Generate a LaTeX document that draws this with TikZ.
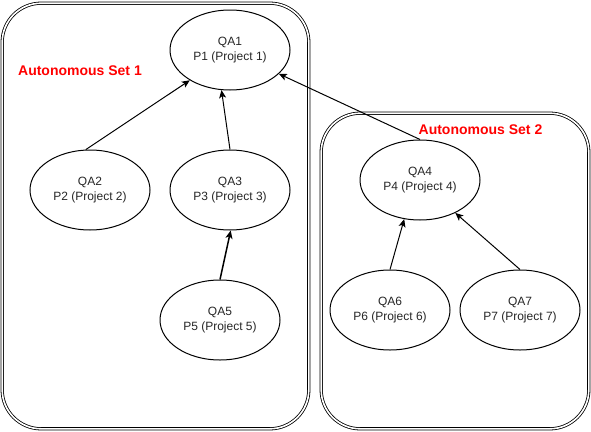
\documentclass[tikz,border=0pt]{standalone}
\usepackage{fontspec}
\setmainfont{Liberation Sans}
\usetikzlibrary{shapes.geometric,arrows.meta}
\begin{document}
\begin{tikzpicture}[x=1pt,y=-1pt,
  qa/.style={draw, line width=1pt, ellipse, minimum width=120pt, minimum height=80pt,
    inner sep=0pt, align=center, text=black!85, font=\fontsize{12}{15}\selectfont},
  setbox/.style={draw, double, double distance=1.6pt, line width=0.8pt, rounded corners=39pt},
  setlabel/.style={text=red, font=\fontsize{14}{16}\selectfont\bfseries, inner sep=0pt},
  conn/.style={line width=1pt, -{Stealth[length=8pt,width=7pt,inset=2pt]}}]
\useasboundingbox (0,0) rectangle (591,431);
% autonomous set boxes
\draw[setbox] (2.2,3.2) rectangle (308.8,428.8);
\draw[setbox] (321.2,113.2) rectangle (588.8,428.8);
\node[setlabel] (lab1) at (80,71) {Autonomous Set 1};
\node[setlabel] (lab2) at (480.5,130) {Autonomous Set 2};
% nodes
\node[qa] (qa1) at (230,50) {QA1\\P1 (Project 1)};
\node[qa] (qa2) at (90,190) {QA2\\P2 (Project 2)};
\node[qa] (qa3) at (230,190) {QA3\\P3 (Project 3)};
\node[qa] (qa4) at (420,180) {QA4\\P4 (Project 4)};
\node[qa] (qa5) at (220,320) {QA5\\P5 (Project 5)};
\node[qa] (qa6) at (390,310) {QA6\\P6 (Project 6)};
\node[qa] (qa7) at (520,310) {QA7\\P7 (Project 7)};
% connectors
\draw[conn] (qa2.96) -- (qa1.217);
\draw[conn] (qa3.north) -- (qa1.258);
\draw[conn] (qa4.north) -- (qa1.334);
\draw[conn, line width=1.5pt] (qa5.north) -- (qa3.271);
\draw[conn] (qa6.north) -- (qa4.248);
\draw[conn] (qa7.north) -- (qa4.317);
\end{tikzpicture}
\end{document}
